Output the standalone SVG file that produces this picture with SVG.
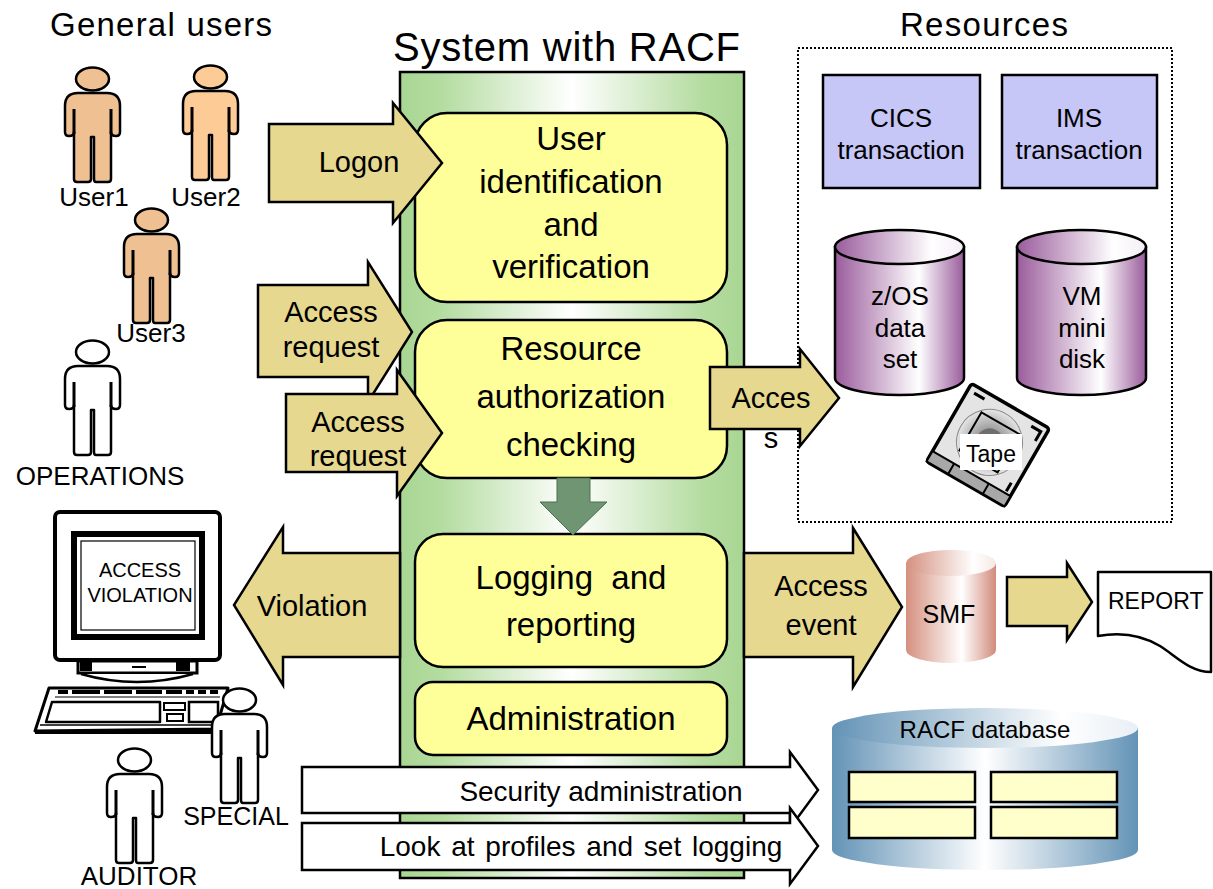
<svg xmlns="http://www.w3.org/2000/svg" xmlns:xlink="http://www.w3.org/1999/xlink" width="1213" height="889" viewBox="0 0 1213 889">
  <style>
    text { font-family: "Liberation Sans", Arial, sans-serif; fill: #000; }
    .title { font-size: 33px; }
    .box { fill: #ffff99; stroke: #000; stroke-width: 2.5; }
    .boxtxt { font-size: 33px; text-anchor: middle; }
    .arrow { fill: #e6d88e; stroke: #000; stroke-width: 2.5; stroke-linejoin: miter; }
    .warrow { fill: #fff; stroke: #000; stroke-width: 2.5; }
    .atxt { font-size: 29px; text-anchor: middle; }
    .lbl { font-size: 26px; text-anchor: middle; }
    .res { fill: #c6c6f7; stroke: #000; stroke-width: 2.5; }
    .rtxt { font-size: 26px; text-anchor: middle; }
    .ln { fill: none; stroke: #000; }
  </style>
  <defs>
    <linearGradient id="gSys" x1="0" y1="0" x2="1" y2="0">
      <stop offset="0" stop-color="#a9d693"/>
      <stop offset="0.12" stop-color="#b4dca0"/>
      <stop offset="0.5" stop-color="#ffffff"/>
      <stop offset="0.88" stop-color="#b4dca0"/>
      <stop offset="1" stop-color="#a9d693"/>
    </linearGradient>
    <linearGradient id="gPurple" x1="0" y1="0" x2="1" y2="0">
      <stop offset="0" stop-color="#9a5c9c"/>
      <stop offset="0.65" stop-color="#ffffff"/>
      <stop offset="1" stop-color="#9a5c9c"/>
    </linearGradient>
    <linearGradient id="gPurpleTop" x1="0" y1="0" x2="1" y2="0">
      <stop offset="0" stop-color="#9a5c9c"/>
      <stop offset="0.75" stop-color="#ffffff"/>
      <stop offset="1" stop-color="#f4eef4"/>
    </linearGradient>
    <linearGradient id="gPink" x1="0" y1="0" x2="1" y2="0">
      <stop offset="0" stop-color="#d5907f"/>
      <stop offset="0.62" stop-color="#ffffff"/>
      <stop offset="1" stop-color="#d18b7b"/>
    </linearGradient>
    <linearGradient id="gPinkTop" x1="0" y1="0" x2="1" y2="0">
      <stop offset="0" stop-color="#d5907f"/>
      <stop offset="0.75" stop-color="#ffffff"/>
      <stop offset="1" stop-color="#f6e8e4"/>
    </linearGradient>
    <linearGradient id="gBlue" x1="0" y1="0" x2="1" y2="0">
      <stop offset="0" stop-color="#6393b6"/>
      <stop offset="0.5" stop-color="#ffffff"/>
      <stop offset="1" stop-color="#6393b6"/>
    </linearGradient>
    <linearGradient id="gBlueTop" x1="0" y1="0" x2="1" y2="0">
      <stop offset="0" stop-color="#6393b6"/>
      <stop offset="0.75" stop-color="#ffffff"/>
      <stop offset="1" stop-color="#e8eff5"/>
    </linearGradient>
    <radialGradient id="gReel" cx="0.5" cy="0.5" r="0.5">
      <stop offset="0" stop-color="#7a7a7a"/>
      <stop offset="0.5" stop-color="#a8a8a8"/>
      <stop offset="1" stop-color="#e6e6e6"/>
    </radialGradient>
    <!-- stick figure: 55 wide, 115 tall, head at top -->
    <g id="person" stroke="#000" stroke-width="2.5" stroke-linejoin="round">
      <ellipse cx="27.5" cy="12" rx="16.5" ry="11.5"/>
      <path d="M13,26 H42 Q55,26 55,39 V65 Q55,69 51,69 Q46,69 46,65 V112 Q46,115 43,115 H31 Q29,115 29,112 V70 H26 V112 Q26,115 23,115 H12 Q9,115 9,112 V65 Q9,69 4,69 Q0,69 0,65 V39 Q0,26 13,26 Z"/>
      <path d="M9,42 V67 M46,42 V67" fill="none" stroke-width="3"/>
    </g>
  </defs>

  <rect width="1213" height="889" fill="#fff"/>

  <!-- section titles -->
  <text class="title" x="50" y="36" textLength="222" lengthAdjust="spacing">General users</text>
  <text x="393" y="61" style="font-size:40px" textLength="347" lengthAdjust="spacing">System with RACF</text>
  <text class="title" x="900" y="36" textLength="168" lengthAdjust="spacing">Resources</text>

  <!-- general users -->
  <g id="user1">
    <use xlink:href="#person" x="65" y="67" fill="#efc192"/>
    <text class="lbl" x="94" y="206">User1</text>
  </g>
  <g id="user2">
    <use xlink:href="#person" x="183" y="65" fill="#fdcb96"/>
    <text class="lbl" x="206" y="206">User2</text>
  </g>
  <g id="user3">
    <use xlink:href="#person" x="124" y="208" fill="#efc192"/>
    <text class="lbl" x="151" y="342">User3</text>
  </g>
  <g id="operations">
    <use xlink:href="#person" x="65" y="340" fill="#fff"/>
    <text class="lbl" x="100" y="485">OPERATIONS</text>
  </g>

  <!-- terminal showing the violation -->
  <g id="terminal">
    <rect x="55" y="512" width="165" height="148" rx="5" fill="#fff" stroke="#000" stroke-width="4"/>
    <rect x="74" y="534" width="128" height="103" fill="#fff" stroke="#000" stroke-width="6"/>
    <rect x="81" y="541" width="114" height="89" fill="none" stroke="#000" stroke-width="1.2"/>
    <text x="140" y="577" style="font-size:20px" text-anchor="middle">ACCESS</text>
    <text x="140" y="602" style="font-size:20px" text-anchor="middle">VIOLATION</text>
    <!-- stand -->
    <rect x="78" y="661" width="119" height="12" fill="#fff" stroke="#000" stroke-width="3"/>
    <rect x="80" y="662" width="12" height="9" fill="#000"/>
    <rect x="176" y="662" width="14" height="9" fill="#000"/>
    <path d="M132,667 H146" class="ln" stroke-width="2"/>
    <path d="M81,674 Q137,690 193,674" fill="#fff" stroke="#000" stroke-width="2.5"/>
    <!-- keyboard -->
    <polygon points="49,688 228,688 216,729 35,731" fill="#fff" stroke="#000" stroke-width="3" stroke-linejoin="round"/>
    <path d="M35,732 H216" class="ln" stroke-width="4"/>
    <path d="M40,725 H214" class="ln" stroke-width="1.5"/>
    <path d="M58,692 H68 M72,692 H100 M104,692 H132 M136,692 H162 M166,692 H182 M186,692 H194 M198,692 H206 M210,692 H218" class="ln" stroke-width="4"/>
    <path d="M55,697 H220" class="ln" stroke-width="1.2"/>
    <path d="M52,702 H160 V722 H46 Z" class="ln" stroke-width="2.5" stroke-linejoin="round"/>
    <path d="M164,703 H185 V710 H164 Z M167,714 H183 V721 H167 Z" class="ln" stroke-width="2"/>
    <path d="M189,702 H218 V722 H189 Z" class="ln" stroke-width="2.5"/>
  </g>
  <g id="special">
    <use xlink:href="#person" x="212" y="688" fill="#fff"/>
    <text class="lbl" x="236" y="825" style="font-size:25px">SPECIAL</text>
  </g>
  <g id="auditor">
    <use xlink:href="#person" x="107" y="748" fill="#fff"/>
    <text class="lbl" x="139" y="885">AUDITOR</text>
  </g>

  <!-- system with RACF -->
  <g id="system">
    <rect x="400" y="72" width="344" height="806" fill="url(#gSys)" stroke="#000" stroke-width="2.5"/>
  </g>
  <g id="identification">
    <rect class="box" x="415" y="113" width="312" height="189" rx="32"/>
    <text class="boxtxt" x="571" y="150">User</text>
    <text class="boxtxt" x="571" y="193">identification</text>
    <text class="boxtxt" x="571" y="236">and</text>
    <text class="boxtxt" x="571" y="278">verification</text>
  </g>
  <g id="authorization">
    <rect class="box" x="415" y="320" width="312" height="158" rx="32"/>
    <text class="boxtxt" x="571" y="360">Resource</text>
    <text class="boxtxt" x="571" y="408">authorization</text>
    <text class="boxtxt" x="571" y="456">checking</text>
  </g>
  <g id="logging">
    <rect class="box" x="415" y="534" width="312" height="133" rx="28"/>
    <text class="boxtxt" x="571" y="589" xml:space="preserve">Logging  and</text>
    <text class="boxtxt" x="571" y="636">reporting</text>
  </g>
  <g id="administration">
    <rect class="box" x="415" y="682" width="312" height="73" rx="18"/>
    <text class="boxtxt" x="571" y="730">Administration</text>
  </g>

  <!-- resources -->
  <g id="resources">
    <rect x="798" y="48" width="374" height="474" fill="none" stroke="#000" stroke-width="2" stroke-dasharray="2 2"/>
  </g>
  <g id="cics">
    <rect class="res" x="823" y="75" width="157" height="113"/>
    <text class="rtxt" x="901" y="127">CICS</text>
    <text class="rtxt" x="901" y="159">transaction</text>
  </g>
  <g id="ims">
    <rect class="res" x="1002" y="75" width="155" height="113"/>
    <text class="rtxt" x="1079" y="127">IMS</text>
    <text class="rtxt" x="1079" y="159">transaction</text>
  </g>
  <g id="zos">
    <path d="M835,247 V378 A64.5,17 0 0 0 964,378 V247 Z" fill="url(#gPurple)" stroke="#000" stroke-width="2.5"/>
    <ellipse cx="899.5" cy="247" rx="64.5" ry="17" fill="url(#gPurpleTop)" stroke="#000" stroke-width="2.5"/>
    <text class="rtxt" x="900" y="305">z/OS</text>
    <text class="rtxt" x="900" y="337">data</text>
    <text class="rtxt" x="900" y="368">set</text>
  </g>
  <g id="vm">
    <path d="M1017,247 V378 A64.5,17 0 0 0 1146,378 V247 Z" fill="url(#gPurple)" stroke="#000" stroke-width="2.5"/>
    <ellipse cx="1081.5" cy="247" rx="64.5" ry="17" fill="url(#gPurpleTop)" stroke="#000" stroke-width="2.5"/>
    <text class="rtxt" x="1082" y="305">VM</text>
    <text class="rtxt" x="1082" y="337">mini</text>
    <text class="rtxt" x="1082" y="368">disk</text>
  </g>
  <g id="tape">
    <g transform="rotate(30 988 445)">
      <rect x="943" y="400" width="90" height="90" rx="3" fill="#e4e4e4" stroke="#000" stroke-width="3.5"/>
      <rect x="943" y="478" width="90" height="12" fill="#a8a8a8" stroke="#000" stroke-width="2"/>
      <path d="M968,478 V490 M1008,478 V490" class="ln" stroke-width="2"/>
      <circle cx="988" cy="442" r="33" fill="url(#gReel)" stroke="#8a8a8a" stroke-width="1"/>
      <rect x="966" y="420" width="44" height="44" fill="none" stroke="#000" stroke-width="2"/>
      <circle cx="988" cy="442" r="14" fill="#6e6e6e"/>
      <path d="M950,407 H962 M1016,407 H1027 V418 M1027,466 V476" class="ln" stroke-width="3"/>
    </g>
    <rect x="960" y="434" width="62" height="36" fill="#fff"/>
    <text x="991" y="462" style="font-size:23px" text-anchor="middle">Tape</text>
  </g>

  <!-- logging outputs -->
  <g id="smf">
    <path d="M906,563 V650 A45,13 0 0 0 996,650 V563 Z" fill="url(#gPink)"/>
    <ellipse cx="951" cy="563" rx="45" ry="13" fill="url(#gPinkTop)"/>
    <text x="949" y="623" style="font-size:25px" text-anchor="middle">SMF</text>
  </g>
  <g id="report">
    <path d="M1098,572 H1211 V672 C1190,672 1176,656 1160,646 C1140,634 1120,632 1098,636 Z" fill="#fff" stroke="#000" stroke-width="2.5" stroke-linejoin="round"/>
    <text x="1108" y="609" style="font-size:23px">REPORT</text>
  </g>
  <g id="racfdb">
    <path d="M832,728 V850 A153,20 0 0 0 1138,850 V728 Z" fill="url(#gBlue)"/>
    <ellipse cx="985" cy="728" rx="153" ry="20" fill="url(#gBlueTop)"/>
    <text x="985" y="738" style="font-size:24px" text-anchor="middle">RACF database</text>
    <rect x="849" y="772" width="126" height="30" fill="#ffffcc" stroke="#000" stroke-width="2.5"/>
    <rect x="991" y="772" width="126" height="30" fill="#ffffcc" stroke="#000" stroke-width="2.5"/>
    <rect x="849" y="807" width="126" height="31" fill="#ffffcc" stroke="#000" stroke-width="2.5"/>
    <rect x="991" y="807" width="126" height="31" fill="#ffffcc" stroke="#000" stroke-width="2.5"/>
  </g>

  <!-- connectors -->
  <g id="connectors">
    <g id="logon">
      <path class="arrow" d="M269,124 H393 V103 L442,163 L393,223 V202 H269 Z"/>
      <text class="atxt" x="359" y="172">Logon</text>
    </g>
    <g id="access-request-1">
      <path class="arrow" d="M258,285 H368 V262 L412,332 L368,402 V377 H258 Z"/>
      <text class="atxt" x="331" y="322">Access</text>
      <text class="atxt" x="331" y="357">request</text>
    </g>
    <g id="access-request-2">
      <path class="arrow" d="M286,394 H397 V370 L442,433 L397,496 V472 H286 Z"/>
      <text class="atxt" x="358" y="432">Access</text>
      <text class="atxt" x="358" y="466">request</text>
    </g>
    <g id="access">
      <path class="arrow" d="M710,367 H800 V349 L839,398 L800,446 V429 H710 Z"/>
      <text x="771" y="408" style="font-size:29px" text-anchor="middle">Acces</text>
      <text x="771" y="448" style="font-size:29px" text-anchor="middle">s</text>
    </g>
    <g id="check-to-log">
      <path d="M557,478 H590 V502 H607 L573,535 L540,502 H557 Z" fill="#6f9572" stroke="#4e6e52" stroke-width="1"/>
    </g>
    <g id="violation">
      <path class="arrow" d="M400,553 H283 V527 L234,605 L283,685 V657 H400 Z"/>
      <text class="atxt" x="312" y="616">Violation</text>
    </g>
    <g id="access-event">
      <path class="arrow" d="M744,553 H853 V528 L902,607 L853,687 V657 H744 Z"/>
      <text class="atxt" x="821" y="596">Access</text>
      <text class="atxt" x="821" y="635">event</text>
    </g>
    <g id="smf-report">
      <path class="arrow" d="M1007,577 H1067 V563 L1092,602 L1067,640 V626 H1007 Z"/>
    </g>
    <g id="security-admin">
      <path class="warrow" d="M302,767 H790 V752 L818,790 L790,828 V813 H302 Z"/>
      <text x="601" y="801" style="font-size:28px" text-anchor="middle">Security administration</text>
    </g>
    <g id="look-at-profiles">
      <path class="warrow" d="M302,823 H790 V808 L818,846 L790,884 V870 H302 Z"/>
      <text x="581" y="856" style="font-size:28px" text-anchor="middle" word-spacing="3">Look at profiles and set logging</text>
    </g>
  </g>
</svg>
